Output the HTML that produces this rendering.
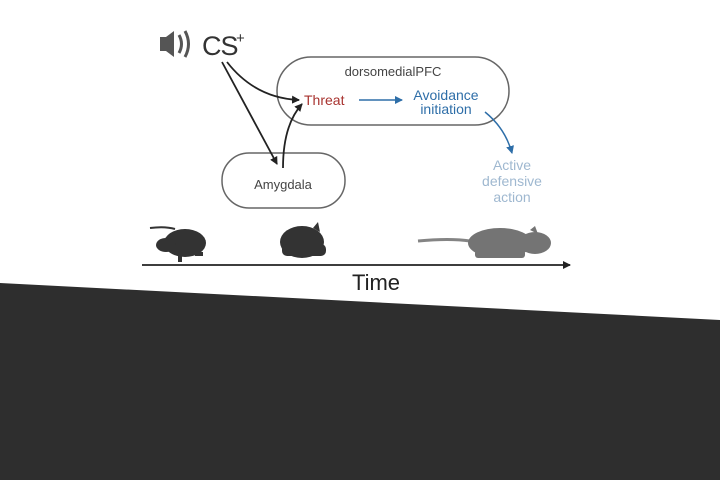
<!DOCTYPE html>
<html><head><meta charset="utf-8"><style>
html,body{margin:0;padding:0;background:#fff;}
svg{display:block;font-family:"Liberation Sans",Arial,sans-serif;}
</style></head><body>
<svg width="720" height="480" viewBox="0 0 720 480" xmlns="http://www.w3.org/2000/svg">
<defs>
<marker id="ak" markerWidth="8" markerHeight="8" refX="7" refY="4" orient="auto" markerUnits="userSpaceOnUse"><path d="M0,0 L8,4 L0,8 Z" fill="#222"/></marker>
<marker id="ab" markerWidth="8" markerHeight="8" refX="7" refY="4" orient="auto" markerUnits="userSpaceOnUse"><path d="M0,0 L8,4 L0,8 Z" fill="#2e6ea8"/></marker>
</defs>
<rect width="720" height="480" fill="#fff"/>
<polygon points="0,283 720,320 720,480 0,480" fill="#2e2e2e"/>
<!-- speaker -->
<rect x="160" y="37" width="6" height="14" fill="#555"/>
<polygon points="166,37 174,31 174,57 166,51" fill="#555"/>
<path d="M179,35 Q184,44 179,53" stroke="#555" stroke-width="3" fill="none"/>
<path d="M185,31 Q192,44 185,57" stroke="#555" stroke-width="3" fill="none"/>
<text x="202" y="55" font-size="27" fill="#333" letter-spacing="-1">CS</text>
<text x="236" y="43" font-size="15" fill="#333">+</text>
<!-- boxes -->
<rect x="277" y="57" width="232" height="68" rx="34" fill="none" stroke="#666" stroke-width="1.5"/>
<text x="393" y="76" font-size="13" fill="#444" text-anchor="middle">dorsomedialPFC</text>
<rect x="222" y="153" width="123" height="55" rx="27" fill="none" stroke="#666" stroke-width="1.5"/>
<text x="283" y="189" font-size="13" fill="#444" text-anchor="middle">Amygdala</text>
<text x="304" y="105" font-size="14" fill="#a8332f">Threat</text>
<text x="446" y="100" font-size="14" fill="#2e6ea8" text-anchor="middle">Avoidance</text>
<text x="446" y="114" font-size="14" fill="#2e6ea8" text-anchor="middle">initiation</text>
<g font-size="14" fill="#9fb8d0" text-anchor="middle">
<text x="512" y="170">Active</text><text x="512" y="186">defensive</text><text x="512" y="202">action</text></g>
<!-- arrows -->
<line x1="222" y1="62" x2="277" y2="164" stroke="#222" stroke-width="1.8" marker-end="url(#ak)"/>
<path d="M227,62 Q255,98 299,100" stroke="#222" stroke-width="1.8" fill="none" marker-end="url(#ak)"/>
<path d="M283,168 Q283,125 302,104" stroke="#222" stroke-width="1.8" fill="none" marker-end="url(#ak)"/>
<line x1="359" y1="100" x2="402" y2="100" stroke="#2e6ea8" stroke-width="1.5" marker-end="url(#ab)"/>
<path d="M485,112 Q505,128 512,153" stroke="#2e6ea8" stroke-width="1.5" fill="none" marker-end="url(#ab)"/>
<!-- mice -->
<g fill="#333">
<path d="M150,228 Q165,226 175,229" stroke="#333" stroke-width="2" fill="none"/>
<ellipse cx="185" cy="243" rx="21" ry="14"/>
<ellipse cx="166" cy="245" rx="10" ry="7"/>
<rect x="178" y="252" width="4" height="10"/>
<rect x="195" y="252" width="8" height="4"/>
<ellipse cx="302" cy="242" rx="22" ry="16"/>
<rect x="282" y="244" width="44" height="12" rx="5"/>
<polygon points="313,228 318,222 320,232"/>
</g>
<g fill="#666" opacity="0.9">
<path d="M418,241 Q450,238 470,241" stroke="#777" stroke-width="3" fill="none"/>
<ellipse cx="500" cy="243" rx="32" ry="15"/>
<ellipse cx="535" cy="243" rx="16" ry="11"/>
<polygon points="530,230 535,226 538,234"/>
<rect x="475" y="250" width="50" height="8" rx="3"/>
</g>
<!-- timeline -->
<line x1="142" y1="265" x2="570" y2="265" stroke="#222" stroke-width="1.8" marker-end="url(#ak)"/>
<text x="376" y="290" font-size="22" fill="#222" text-anchor="middle">Time</text>
</svg>
</body></html>
